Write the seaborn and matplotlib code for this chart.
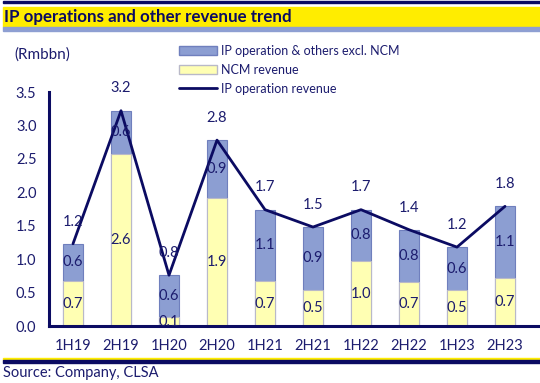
import numpy as np
import pandas as pd
import seaborn as sns
import matplotlib.pyplot as plt
from matplotlib.patches import Patch, Rectangle
from matplotlib.lines import Line2D

# Data (Rmbbn)
periods = ["1H19", "2H19", "1H20", "2H20", "1H21", "2H21", "1H22", "2H22", "1H23", "2H23"]
ncm = [0.67, 2.58, 0.13, 1.91, 0.67, 0.54, 0.97, 0.66, 0.54, 0.72]
others = [0.56, 0.64, 0.63, 0.87, 1.07, 0.94, 0.77, 0.78, 0.64, 1.07]
total = [a + b for a, b in zip(ncm, others)]

df = pd.DataFrame({"period": periods, "ncm": ncm, "others": others, "total": total})

NAVY = "#0b0b62"
TXT = "#1c1c6e"
BLUE = "#8c9ed2"
BLUE_EDGE = "#6f7fbd"
YELLOW = "#ffffb3"
YELLOW_EDGE = "#b9b9c8"
FS = 10.5

sns.set_style("white")
plt.rcParams["font.family"] = ["Lato", "DejaVu Sans"]

fig = plt.figure(figsize=(5.4, 3.83), dpi=100)
ax = fig.add_axes([49 / 540, 1 - 326 / 383, 480 / 540, 234 / 383])

# stacked bars: total (blue) first, NCM (yellow) drawn over the bottom part
sns.barplot(data=df, x="period", y="total", color=BLUE, edgecolor=BLUE_EDGE,
            linewidth=0.8, width=0.41, saturation=1, ax=ax)
sns.barplot(data=df, x="period", y="ncm", color=YELLOW, edgecolor=YELLOW_EDGE,
            linewidth=0.8, width=0.41, saturation=1, ax=ax)

xs = np.arange(len(periods))
ax.plot(xs, df["total"], color=NAVY, lw=2, zorder=5)

# labels
for i in xs:
    ax.text(i, ncm[i] / 2, f"{ncm[i]:.1f}", ha="center", va="center",
            fontsize=FS, color=TXT, zorder=6)
    ax.text(i, ncm[i] + others[i] / 2, f"{others[i]:.1f}", ha="center",
            va="center", fontsize=FS, color=TXT, zorder=6)
    ax.annotate(f"{total[i]:.1f}", (i, total[i]), xytext=(0, 16),
                textcoords="offset points", ha="center", va="center",
                fontsize=FS, color=TXT, zorder=6)

ax.set_xlim(-0.5, len(periods) - 0.5)
ax.set_ylim(0, 3.5)
ax.set_yticks(np.arange(0, 3.51, 0.5))
ax.set_yticklabels([f"{v:.1f}" for v in np.arange(0, 3.51, 0.5)])
ax.set_xticks(xs)
ax.set_xticklabels(periods)
ax.set_xticks(np.arange(-0.5, len(periods), 1), minor=True)
ax.tick_params(axis="x", which="major", length=0, pad=9, labelsize=FS, labelcolor=TXT)
ax.tick_params(axis="x", which="minor", length=5, width=1.2, color=NAVY, direction="out")
ax.tick_params(axis="y", length=5, width=1.2, color=NAVY, direction="out",
               labelsize=FS, labelcolor=TXT, pad=4)
ax.set_xlabel("")
ax.set_ylabel("")
for s in ["top", "right"]:
    ax.spines[s].set_visible(False)
for s in ["left", "bottom"]:
    ax.spines[s].set_color(NAVY)
    ax.spines[s].set_linewidth(2.2)
ax.spines["bottom"].set_bounds(-0.5, len(periods) - 0.3)

fig.text(14 / 540, 1 - 55 / 383, "(Rmbbn)", fontsize=11, color=TXT, va="center")

handles = [Patch(facecolor=BLUE, edgecolor=BLUE_EDGE, label="IP operation & others excl. NCM"),
           Patch(facecolor=YELLOW, edgecolor=YELLOW_EDGE, label="NCM revenue"),
           Line2D([], [], color=NAVY, lw=2, label="IP operation revenue")]
leg = fig.legend(handles=handles, loc="upper left", bbox_to_anchor=(174 / 540, 1 - 40 / 383),
                 frameon=False, fontsize=9, handlelength=3.0, handleheight=0.7,
                 handletextpad=0.35, labelspacing=0.55, borderaxespad=0)
for t in leg.get_texts():
    t.set_color(TXT)

# title band
fig.patches.append(Rectangle((3 / 540, 1 - 3 / 383), 537 / 540, 2 / 383,
                             transform=fig.transFigure, color=NAVY))
fig.patches.append(Rectangle((3 / 540, 1 - 27 / 383), 537 / 540, 20 / 383,
                             transform=fig.transFigure, color="#ffed00"))
fig.patches.append(Rectangle((3 / 540, 1 - 31 / 383), 537 / 540, 4 / 383,
                             transform=fig.transFigure, color="#8e9fd2"))
fig.text(4 / 540, 1 - 17 / 383, "IP operations and other revenue trend", fontsize=12.2,
         fontweight="bold", color=NAVY, va="center")

# footer
fig.patches.append(Rectangle((3 / 540, 1 - 359.5 / 383), 537 / 540, 2 / 383,
                             transform=fig.transFigure, color="#ffed00"))
fig.patches.append(Rectangle((3 / 540, 1 - 363 / 383), 537 / 540, 3.5 / 383,
                             transform=fig.transFigure, color=NAVY))
fig.text(3 / 540, 1 - 373 / 383, "Source: Company, CLSA", fontsize=10.5, color=TXT, va="center")

fig.savefig("out.png", dpi=100)
